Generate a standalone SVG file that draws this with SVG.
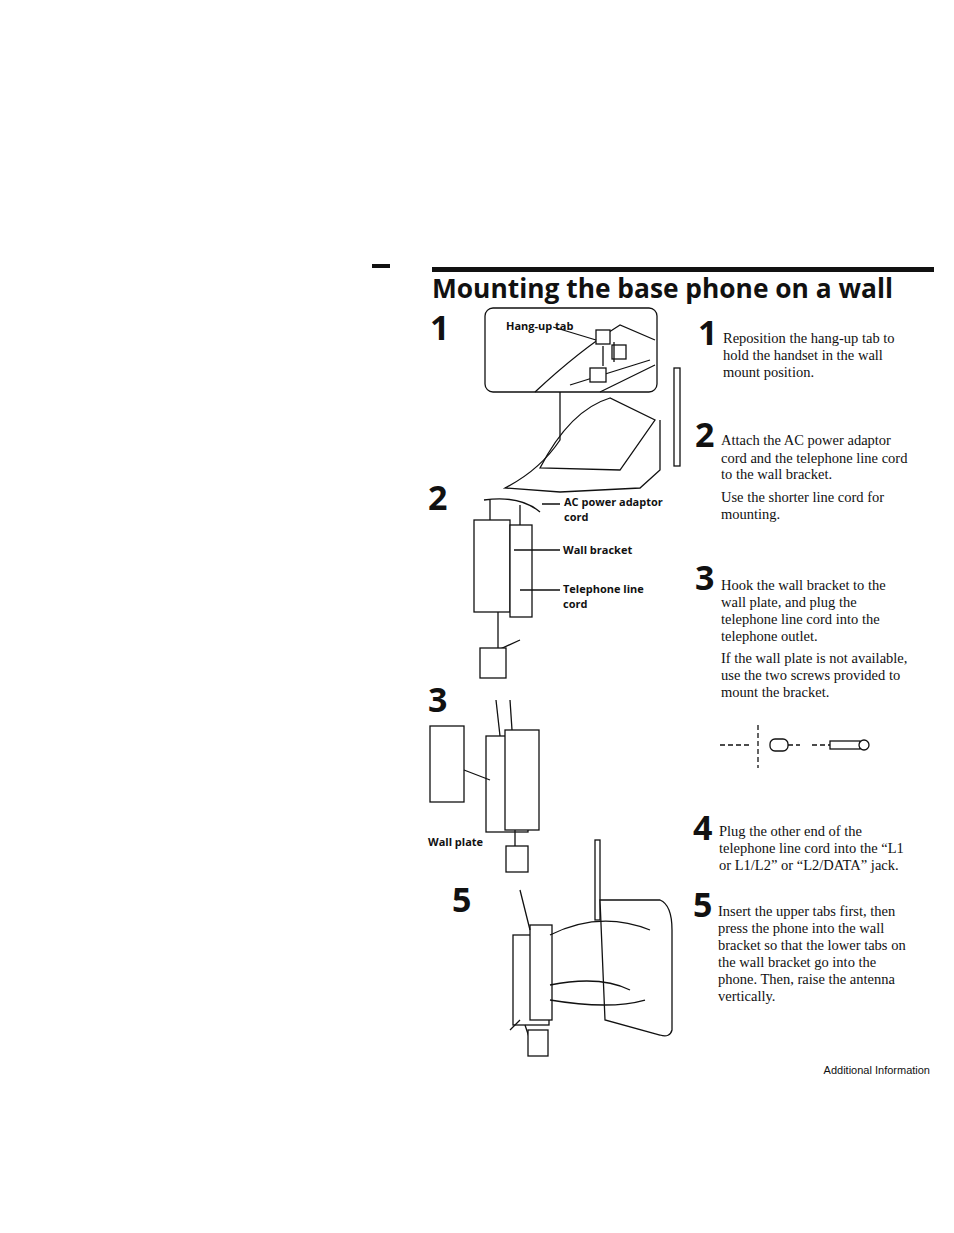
<svg xmlns="http://www.w3.org/2000/svg" width="954" height="1233" viewBox="0 0 954 1233">
<style>
.t{font-family:"Liberation Serif",serif;font-size:14.5px;fill:#111}
.n{font-family:"Open Sans","DejaVu Sans",sans-serif;font-weight:bold;font-size:34px;fill:#111}
.l{font-family:"Open Sans","DejaVu Sans",sans-serif;font-weight:bold;font-size:11px;fill:#111}
.d{fill:none;stroke:#111;stroke-width:1.3}
.w{fill:#fff;stroke:#111;stroke-width:1.3}
</style>
<rect width="954" height="1233" fill="#fff"/>
<rect x="372" y="264" width="18" height="4" fill="#111"/>
<rect x="432" y="267" width="502" height="5" fill="#111"/>
<text x="432" y="298" font-family="'Open Sans','DejaVu Sans',sans-serif" font-weight="bold" font-size="26" textLength="461" lengthAdjust="spacingAndGlyphs" fill="#111">Mounting the base phone on a wall</text>
<g id="numsL"><text class="n" x="430" y="340">1</text><text class="n" x="428" y="510">2</text><text class="n" x="428" y="712">3</text><text class="n" x="452" y="912">5</text></g>
<g id="fig1">
<path class="d" d="M560 392 L560 440 Q540 470 505 488 L560 492 L640 488 L660 470 L660 420"/>
<path class="d" d="M540 468 Q570 410 610 398 L655 420 L620 470 Z"/>
<rect class="w" x="485" y="308" width="172" height="84" rx="8"/>
<path class="d" d="M535 392 Q580 350 620 325 L655 340 M570 385 L650 360 M600 392 L655 365"/>
<rect class="w" x="596" y="330" width="14" height="14"/><rect class="w" x="612" y="345" width="14" height="14"/><rect class="w" x="590" y="368" width="16" height="14"/>
<path class="d" d="M603 346 L603 366 M614 362 L614 342"/>
<rect class="w" x="674" y="368" width="6" height="98"/>
<text class="l" x="506" y="330">Hang-up tab</text><path class="d" d="M553 327 L596 340"/>
</g>
<g id="fig2">
<rect class="w" x="474" y="520" width="36" height="92"/><rect class="w" x="510" y="525" width="22" height="92"/>
<path class="d" d="M484 500 Q520 495 540 512 M490 500 L490 520 M520 505 L520 525 M498 612 L498 650 L520 640 M492 650 L492 670"/>
<rect class="w" x="480" y="648" width="26" height="30"/>
<path class="d" d="M542 504 L560 504 M514 550 L560 550 M520 590 L560 590"/>
<text class="l" x="564" y="506">AC power adaptor</text><text class="l" x="564" y="521">cord</text>
<text class="l" x="563" y="554">Wall bracket</text>
<text class="l" x="563" y="593">Telephone line</text><text class="l" x="563" y="608">cord</text>
</g>
<g id="fig3">
<rect class="w" x="430" y="726" width="34" height="76"/>
<rect class="w" x="486" y="736" width="42" height="96"/><rect class="w" x="505" y="730" width="34" height="100"/>
<path class="d" d="M464 770 L490 780 M496 700 L500 736 M510 700 L512 730 M515 830 L515 848"/>
<rect class="w" x="506" y="846" width="22" height="26"/>
<text class="l" x="428" y="846">Wall plate</text>
</g>
<g id="fig5">
<rect class="w" x="595" y="840" width="5" height="80"/>
<path class="w" d="M600 900 L660 900 Q672 905 672 930 L672 1030 Q670 1038 660 1035 L605 1020 Z"/>
<rect class="w" x="513" y="935" width="36" height="90"/><rect class="w" x="530" y="925" width="22" height="95"/>
<path class="d" d="M550 935 Q600 910 650 930 M550 985 Q600 975 630 990 M550 1000 Q610 1010 645 1000 M520 890 L530 930 M525 1025 L530 1040 M510 1030 L520 1020"/>
<rect class="w" x="528" y="1030" width="20" height="26"/>
</g>
<g id="screw"><path class="d" d="M720 745 L752 745 M758 725 L758 768 M772 745 L800 745 M812 745 L850 745" stroke-dasharray="5,3"/><rect class="w" x="770" y="739" width="18" height="12" rx="5"/><rect class="w" x="830" y="741" width="30" height="8"/><circle class="w" cx="864" cy="745" r="5"/></g>
<g id="numsR"><text class="n" x="698" y="345">1</text><text class="n" x="695" y="447">2</text><text class="n" x="695" y="590">3</text><text class="n" x="693" y="840">4</text><text class="n" x="693" y="917">5</text></g>
<g id="text">
<text class="t" x="723" y="343">Reposition the hang-up tab to</text><text class="t" x="723" y="360">hold the handset in the wall</text><text class="t" x="723" y="377">mount position.</text>
<text class="t" x="721" y="445">Attach the AC power adaptor</text><text class="t" x="721" y="463">cord and the telephone line cord</text><text class="t" x="721" y="479">to the wall bracket.</text>
<text class="t" x="721" y="502">Use the shorter line cord for</text><text class="t" x="721" y="519">mounting.</text>
<text class="t" x="721" y="590">Hook the wall bracket to the</text><text class="t" x="721" y="607">wall plate, and plug the</text><text class="t" x="721" y="624">telephone line cord into the</text><text class="t" x="721" y="641">telephone outlet.</text>
<text class="t" x="721" y="663">If the wall plate is not available,</text><text class="t" x="721" y="680">use the two screws provided to</text><text class="t" x="721" y="697">mount the bracket.</text>
<text class="t" x="719" y="836">Plug the other end of the</text><text class="t" x="719" y="853">telephone line cord into the “L1</text><text class="t" x="719" y="870">or L1/L2” or “L2/DATA” jack.</text>
<text class="t" x="718" y="916">Insert the upper tabs first, then</text><text class="t" x="718" y="933">press the phone into the wall</text><text class="t" x="718" y="950">bracket so that the lower tabs on</text><text class="t" x="718" y="967">the wall bracket go into the</text><text class="t" x="718" y="984">phone. Then, raise the antenna</text><text class="t" x="718" y="1001">vertically.</text>
<text x="930" y="1074" text-anchor="end" font-family="'Liberation Sans',sans-serif" font-size="11" fill="#111">Additional Information</text>
</g>
</svg>
